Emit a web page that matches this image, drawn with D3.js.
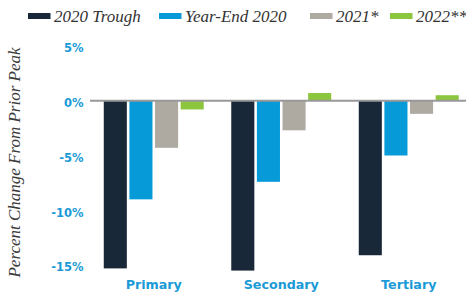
<!DOCTYPE html>
<html>
<head>
<meta charset="utf-8">
<script src="https://cdn.jsdelivr.net/npm/d3@7"></script>
<style>
  body { margin: 0; background: #fff; }
  svg { display: block; }
</style>
</head>
<body>
<script>
var categories = ["Primary", "Secondary", "Tertiary"]
var series = ["2020 Trough", "Year-End 2020", "2021*", "2022**"]
var trough2020 = [-15.3, -15.5, -14.1]
var yearEnd2020 = [-9.0, -7.4, -5.0]
var values2021 = [-4.3, -2.7, -1.2]
var values2022 = [-0.8, 0.7, 0.5]
var yTicks = [5, 0, -5, -10, -15]

var colors = ["#192838", "#069bd8", "#aeaaa2", "#8cc63f"]
var seriesValues = [trough2020, yearEnd2020, values2021, values2022]

var rows = categories.map(function(c, i) {
  return { cat: c, vals: seriesValues.map(function(s) { return s[i] }) }
})

var W = 466, H = 296
var svg = d3.select("body").append("svg").attr("width", W).attr("height", H)

var x0 = d3.scaleBand().domain(categories).range([90, 472.5])
  .paddingInner(0.216).paddingOuter(0.108)
var x1 = d3.scaleBand().domain(d3.range(series.length)).range([0, x0.bandwidth()])
  .paddingInner(0.1).paddingOuter(0)
var y = d3.scaleLinear().domain([-15, 5]).range([265.1, 45.9])

// bars
var grp = svg.append("g").selectAll("g").data(rows).enter().append("g")
  .attr("transform", function(d) { return "translate(" + x0(d.cat) + ",0)" })
grp.selectAll("rect").data(function(d) { return d.vals }).enter().append("rect")
  .attr("x", function(d, i) { return x1(i) })
  .attr("width", x1.bandwidth())
  .attr("y", function(d) { return y(Math.max(0, d)) })
  .attr("height", function(d) { return Math.abs(y(d) - y(0)) })
  .attr("fill", function(d, i) { return colors[i] })

// zero line
svg.append("line")
  .attr("x1", 90).attr("x2", W)
  .attr("y1", y(0)).attr("y2", y(0))
  .attr("stroke", "#999").attr("stroke-width", 2)

// y axis labels
var yAxis = svg.append("g").attr("transform", "translate(90,0)")
  .call(d3.axisLeft(y).tickValues(yTicks).tickSize(0).tickPadding(6.5)
    .tickFormat(function(d) { return d + "%" }))
yAxis.select(".domain").remove()
yAxis.selectAll("text")
  .attr("dy", "0.5em")
  .style("font-family", "DejaVu Sans")
  .style("font-weight", "bold")
  .style("font-size", "11.5px")
  .style("fill", "#1a9ad6")

// category labels
var xAxis = svg.append("g").attr("transform", "translate(0,279.5)")
  .call(d3.axisBottom(x0).tickSize(0).tickPadding(0))
xAxis.select(".domain").remove()
xAxis.selectAll("text")
  .style("font-family", "DejaVu Sans")
  .style("font-weight", "bold")
  .style("font-size", "12.7px")
  .style("fill", "#1a9ad6")

// y title
svg.append("text")
  .attr("transform", "translate(20,162.5) rotate(-90)")
  .attr("text-anchor", "middle")
  .style("font-family", "Liberation Serif")
  .style("font-style", "italic")
  .style("font-size", "17px")
  .style("fill", "#3a3a3a")
  .text("Percent Change From Prior Peak")

// legend
var legendX = [28, 159, 310, 390]
var leg = svg.append("g").selectAll("g").data(series).enter().append("g")
  .attr("transform", function(d, i) { return "translate(" + legendX[i] + ",0)" })
leg.append("rect")
  .attr("x", 0).attr("y", 13).attr("width", 22.5).attr("height", 6)
  .attr("fill", function(d, i) { return colors[i] })
leg.append("text")
  .attr("x", 26).attr("y", 21.5)
  .style("font-family", "Liberation Serif")
  .style("font-style", "italic")
  .style("font-size", "17px")
  .style("fill", "#333")
  .text(function(d) { return d })
</script>
</body>
</html>
